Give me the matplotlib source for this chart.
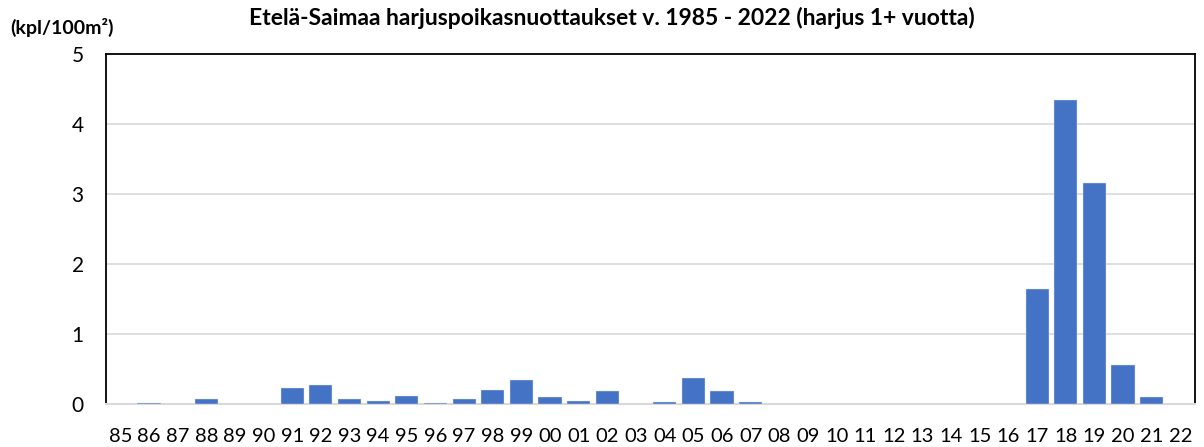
import matplotlib
matplotlib.use("Agg")
import matplotlib.pyplot as plt

plt.rcParams['font.family'] = ['Lato', 'DejaVu Sans']

years = ["85", "86", "87", "88", "89", "90", "91", "92", "93", "94",
         "95", "96", "97", "98", "99", "00", "01", "02", "03", "04",
         "05", "06", "07", "08", "09", "10", "11", "12", "13", "14",
         "15", "16", "17", "18", "19", "20", "21", "22"]
density = [0.00, 0.02, 0.00, 0.08, 0.00, 0.00, 0.23, 0.27, 0.07, 0.04,
           0.12, 0.02, 0.08, 0.20, 0.35, 0.10, 0.05, 0.19, 0.00, 0.03,
           0.38, 0.19, 0.03, 0.00, 0.00, 0.00, 0.00, 0.00, 0.00, 0.00,
           0.00, 0.00, 1.65, 4.34, 3.15, 0.565, 0.10, 0.00]
yticks = [0, 1, 2, 3, 4, 5]

fig = plt.figure(figsize=(12.04, 4.47), dpi=100)
ax = fig.add_axes([106 / 1204, 1 - 404.3 / 447, (1194.7 - 106) / 1204, (404.3 - 53.7) / 447])

x = list(range(len(years)))
ax.bar(x, density, width=0.81, color="#4472C4", edgecolor="#dfe6f4", linewidth=0.3, zorder=3)

ax.set_xlim(-0.5, len(years) - 0.5)
ax.set_ylim(0, 5)
ax.set_yticks(yticks)
ax.set_yticklabels([str(v) for v in yticks])
ax.set_xticks(x)
ax.set_xticklabels(years)
ax.tick_params(axis='both', length=0, labelsize=15)
ax.tick_params(axis='x', labelsize=14.5)
ax.tick_params(axis='y', pad=16)
ax.tick_params(axis='x', pad=17)
ax.yaxis.grid(True, color="#d9d9d9", linewidth=1.2, zorder=0)
ax.set_axisbelow(True)

for side in ("left", "top", "right"):
    ax.spines[side].set_color("black")
    ax.spines[side].set_linewidth(1.3)
ax.spines["bottom"].set_color("#d9d9d9")
ax.spines["bottom"].set_linewidth(1.5)

fig.text(612 / 1204, 1 - 18 / 447, "Etelä-Saimaa harjuspoikasnuottaukset v. 1985 - 2022 (harjus 1+ vuotta)",
         ha="center", va="center", fontsize=16.5, fontweight="bold")
fig.text(10 / 1204, 1 - 27 / 447, "(kpl/100m²)", ha="left", va="center",
         fontsize=14, fontweight="bold")

fig.savefig("out.png", dpi=100)
